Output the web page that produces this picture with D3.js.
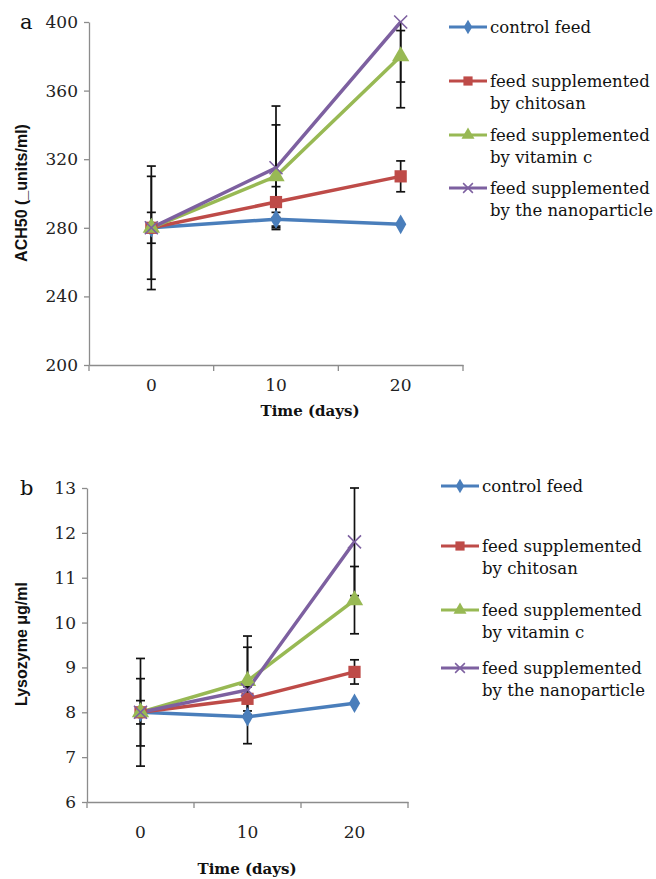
<!DOCTYPE html>
<html><head><meta charset="utf-8">
<script src="https://cdn.jsdelivr.net/npm/d3@7"></script>
<style>body{margin:0;background:#fff}svg{display:block}</style>
</head><body>
<script>
const days = ["0","10","20"];
const seriesNames = ["control feed","feed supplemented|by chitosan","feed supplemented|by vitamin c","feed supplemented|by the nanoparticle"];
const seriesColors = ["#4a7ebb","#be4b48","#98b954","#7d60a0"];
const seriesShapes = ["diamond","square","triangle","cross"];

const achTicks = [200,240,280,320,360,400];
const achControl = [280,285,282];
const achChitosan = [280,295,310];
const achVitC = [280,310,380];
const achNano = [280,315,400];
const achControlErr = [0,4,0];
const achChitosanErr = [9,9,9];
const achVitCErr = [30,30,15];
const achNanoErr = [36,36,50];

const lysTicks = [6,7,8,9,10,11,12,13];
const lysControl = [8,7.9,8.2];
const lysChitosan = [8,8.3,8.9];
const lysVitC = [8,8.7,10.5];
const lysNano = [8,8.5,11.8];
const lysControlErr = [0,0,0];
const lysChitosanErr = [0.26,0.27,0.27];
const lysVitCErr = [0.75,0.75,0.75];
const lysNanoErr = [1.2,1.2,1.2];

const W=656,H=879;
const svg=d3.select("body").append("svg").attr("width",W).attr("height",H);

function markerPath(shape){
  if(shape==="diamond") return d3.symbol(d3.symbolDiamond,110)();
  if(shape==="square") return d3.symbol(d3.symbolSquare,150)();
  if(shape==="triangle") return d3.symbol(d3.symbolTriangle,130)();
  return "M-6.5,-6.5L6.5,6.5M-6.5,6.5L6.5,-6.5";
}

function panel(o){
  const g=svg.append("g");
  const x=d3.scaleBand().domain(days).range([o.x0,o.x1]).padding(0);
  const y=d3.scaleLinear().domain([o.ticks[0],o.ticks[o.ticks.length-1]]).range([o.yBottom,o.yTop]);
  const cx=d=>x(d)+x.bandwidth()/2;
  const clipId="clip"+o.id;
  svg.append("clipPath").attr("id",clipId).append("rect")
    .attr("x",o.x0).attr("y",o.yTop-1).attr("width",o.x1-o.x0+20).attr("height",o.yBottom-o.yTop+2);
  const yAx=g.append("g").attr("transform",`translate(${o.x0},0)`)
    .call(d3.axisLeft(y).tickValues(o.ticks).tickFormat(d3.format("d")).tickSize(5).tickSizeOuter(0).tickPadding(6));
  yAx.select(".domain").attr("stroke","#8c8c8c").attr("stroke-width",1.3);
  yAx.selectAll(".tick line").attr("stroke","#8c8c8c").attr("stroke-width",1.3);
  yAx.selectAll("text").attr("font-family","DejaVu Serif").attr("font-size",17).attr("fill","#222");
  const xAx=g.append("g").attr("transform",`translate(0,${o.yBottom})`)
    .call(d3.axisBottom(x).tickSize(0).tickPadding(o.xLabelPad));
  xAx.select(".domain").attr("stroke","#8c8c8c").attr("stroke-width",1.3);
  xAx.selectAll("text").attr("font-family","DejaVu Serif").attr("font-size",17).attr("fill","#222");
  g.selectAll("line.bt").data(days).join("line").attr("class","bt")
    .attr("x1",d=>x(d)+x.bandwidth()).attr("x2",d=>x(d)+x.bandwidth())
    .attr("y1",o.yBottom).attr("y2",o.yBottom+6).attr("stroke","#8c8c8c").attr("stroke-width",1.3);
  g.append("line").attr("x1",o.x0).attr("x2",o.x0).attr("y1",o.yBottom).attr("y2",o.yBottom+6)
    .attr("stroke","#8c8c8c").attr("stroke-width",1.3);
  g.append("text").attr("x",20).attr("y",o.yTop+7).attr("font-family","DejaVu Serif").attr("font-size",21).attr("fill","#111").text(o.letter);
  g.append("text").attr("transform",`translate(${o.ytX},${o.ytY}) rotate(-90)`).attr("text-anchor","middle")
    .attr("font-family","Liberation Sans").attr("font-weight","bold").attr("font-size",o.ytSize).attr("fill","#111").text(o.yTitle);
  g.append("text").attr("x",o.xtX).attr("y",o.xtY).attr("text-anchor","middle")
    .attr("font-family","DejaVu Serif").attr("font-weight","bold").attr("font-size",15).attr("fill","#111").text("Time (days)");
  const line=d3.line().x((d,i)=>cx(days[i])).y(d=>y(d));
  const plot=g.append("g").attr("clip-path",`url(#${clipId})`);
  o.series.forEach((s,k)=>{
    plot.append("path").datum(s).attr("d",line).attr("fill","none").attr("stroke",seriesColors[k]).attr("stroke-width",3.5);
  });
  o.series.forEach((s,k)=>{
    const e=o.errs[k];
    s.forEach((v,i)=>{
      if(!e[i]) return;
      const X=cx(days[i]);
      plot.append("line").attr("x1",X).attr("x2",X).attr("y1",y(v-e[i])).attr("y2",y(v+e[i])).attr("stroke","#111").attr("stroke-width",1.7);
      [v-e[i],v+e[i]].forEach(w=>plot.append("line").attr("x1",X-4.5).attr("x2",X+4.5).attr("y1",y(w)).attr("y2",y(w)).attr("stroke","#111").attr("stroke-width",1.7));
    });
  });
  o.series.forEach((s,k)=>{
    s.forEach((v,i)=>{
      const m=g.append("path").attr("d",markerPath(seriesShapes[k])).attr("transform",`translate(${cx(days[i])},${y(v)})`);
      if(seriesShapes[k]==="cross") m.attr("fill","none").attr("stroke",seriesColors[k]).attr("stroke-width",1.6);
      else m.attr("fill",seriesColors[k]);
    });
  });
  seriesNames.forEach((n,k)=>{
    const ly=o.legY[k];
    const lg=g.append("g");
    lg.append("line").attr("x1",o.legX).attr("x2",o.legX+38).attr("y1",ly).attr("y2",ly).attr("stroke",seriesColors[k]).attr("stroke-width",3);
    const sc=0.75;
    const m=lg.append("path").attr("d",markerPath(seriesShapes[k])).attr("transform",`translate(${o.legX+19},${ly}) scale(${sc})`);
    if(seriesShapes[k]==="cross") m.attr("fill","none").attr("stroke",seriesColors[k]).attr("stroke-width",2);
    else m.attr("fill",seriesColors[k]);
    n.split("|").forEach((t,j)=>{
      lg.append("text").attr("x",o.legX+41).attr("y",ly+6+j*22).attr("font-family","DejaVu Serif").attr("font-size",16.5).attr("fill","#111").text(t);
    });
  });
}

panel({id:"a",letter:"a",x0:89,x1:463,yTop:22,yBottom:365,ticks:achTicks,
  series:[achControl,achChitosan,achVitC,achNano],errs:[achControlErr,achChitosanErr,achVitCErr,achNanoErr],
  yTitle:"ACH50 (_units/ml)",ytX:27,ytY:193,ytSize:16,xtX:310,xtY:416,xLabelPad:14,
  legX:449,legY:[27,81,135,188]});
panel({id:"b",letter:"b",x0:87,x1:408,yTop:488,yBottom:802,ticks:lysTicks,
  series:[lysControl,lysChitosan,lysVitC,lysNano],errs:[lysControlErr,lysChitosanErr,lysVitCErr,lysNanoErr],
  yTitle:"Lysozyme μg/ml",ytX:27,ytY:644,ytSize:16,xtX:247,xtY:874,xLabelPad:24,
  legX:441,legY:[486,546,610,668]});
</script>
</body></html>
